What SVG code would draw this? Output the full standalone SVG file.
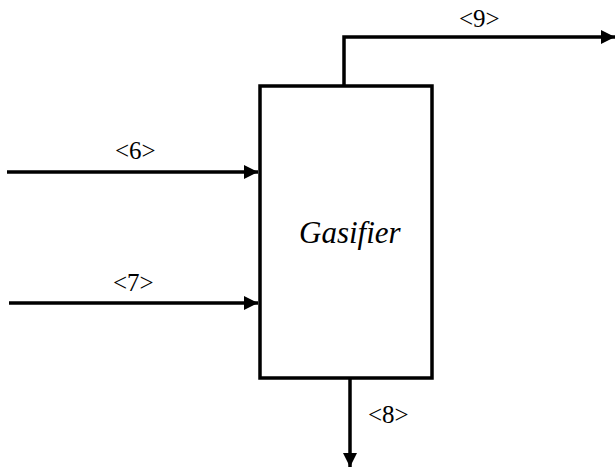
<svg xmlns="http://www.w3.org/2000/svg" width="615" height="471" viewBox="0 0 615 471" font-family="Liberation Serif">
<defs>
<marker id="ah" markerUnits="userSpaceOnUse" markerWidth="16" markerHeight="16" refX="14" refY="7" orient="auto">
<path d="M0,0 L14,7 L0,14 Z" fill="#000"/>
</marker>
</defs>
<rect width="615" height="471" fill="#fff"/>
<g id="gasifier">
<rect x="260" y="86" width="172" height="292" fill="none" stroke="#000" stroke-width="3.5"/>
<text x="299" y="243" style="font-family:'Liberation Serif';font-style:italic;font-size:31px">Gasifier</text>
</g>
<g id="connectors" fill="none" stroke="#000" stroke-width="3.5">
<path d="M7,172 L258,172" marker-end="url(#ah)"/>
<path d="M9,303 L258,303" marker-end="url(#ah)"/>
<path d="M344,86 L344,37 L615,37" marker-end="url(#ah)"/>
<path d="M350,378 L350,467" marker-end="url(#ah)"/>
</g>
<g id="labels">
<text x="115" y="159" style="font-family:'Liberation Serif';font-size:25px">&lt;6&gt;</text>
<text x="113" y="291" style="font-family:'Liberation Serif';font-size:25px">&lt;7&gt;</text>
<text x="459" y="27" style="font-family:'Liberation Serif';font-size:25px">&lt;9&gt;</text>
<text x="368" y="423" style="font-family:'Liberation Serif';font-size:25px">&lt;8&gt;</text>
</g>
</svg>
